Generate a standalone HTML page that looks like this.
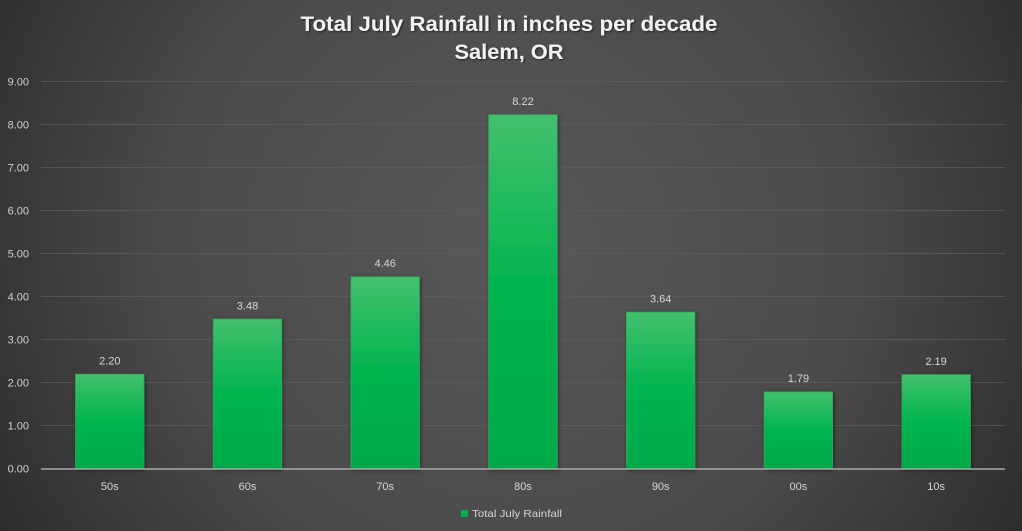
<!DOCTYPE html>
<html>
<head>
<meta charset="utf-8">
<style>
html,body{margin:0;padding:0;background:#333;}
svg{display:block;}
text{font-family:"Liberation Sans",sans-serif;}
</style>
</head>
<body>
<svg width="1022" height="531" viewBox="0 0 1022 531" xmlns="http://www.w3.org/2000/svg">
<defs>
<radialGradient id="bg" cx="0.5" cy="0.45" r="0.62" gradientUnits="objectBoundingBox" gradientTransform="translate(0.5 0.45) scale(1 1.9) translate(-0.5 -0.45)">
<stop offset="0" stop-color="#585858"/>
<stop offset="0.55" stop-color="#4a4a4a"/>
<stop offset="1" stop-color="#282828"/>
</radialGradient>
<linearGradient id="bar" x1="0" y1="0" x2="0" y2="1">
<stop offset="0" stop-color="#44c06d"/>
<stop offset="0.5" stop-color="#00b44f"/>
<stop offset="1" stop-color="#00aa4a"/>
</linearGradient>
<filter id="sh" x="-20%" y="-10%" width="140%" height="120%">
<feGaussianBlur in="SourceAlpha" stdDeviation="2"/>
<feOffset dx="1" dy="1"/>
<feComponentTransfer><feFuncA type="linear" slope="0.45"/></feComponentTransfer>
<feMerge><feMergeNode/><feMergeNode in="SourceGraphic"/></feMerge>
</filter>
<filter id="tsh" x="-5%" y="-20%" width="110%" height="150%">
<feGaussianBlur in="SourceAlpha" stdDeviation="1"/>
<feOffset dx="1" dy="1"/>
<feComponentTransfer><feFuncA type="linear" slope="0.6"/></feComponentTransfer>
<feMerge><feMergeNode/><feMergeNode in="SourceGraphic"/></feMerge>
</filter>
</defs>
<rect x="0" y="0" width="1022" height="531" fill="url(#bg)"/>

<!-- title -->
<g filter="url(#tsh)" fill="#f2f2f2" font-weight="bold" font-size="21" text-anchor="middle">
<text x="509" y="31" textLength="417" lengthAdjust="spacingAndGlyphs">Total July Rainfall in inches per decade</text>
<text x="509" y="59" textLength="109" lengthAdjust="spacingAndGlyphs">Salem, OR</text>
</g>

<!-- gridlines -->
<g stroke="#5e5e5e" stroke-opacity="0.75" stroke-width="1">
<line x1="41" x2="1005" y1="81.5" y2="81.5"/>
<line x1="41" x2="1005" y1="124.5" y2="124.5"/>
<line x1="41" x2="1005" y1="167.5" y2="167.5"/>
<line x1="41" x2="1005" y1="210.5" y2="210.5"/>
<line x1="41" x2="1005" y1="253.5" y2="253.5"/>
<line x1="41" x2="1005" y1="296.5" y2="296.5"/>
<line x1="41" x2="1005" y1="339.5" y2="339.5"/>
<line x1="41" x2="1005" y1="382.5" y2="382.5"/>
<line x1="41" x2="1005" y1="425.5" y2="425.5"/>
</g>

<!-- y labels -->
<g fill="#d0d0d0" font-size="11" text-anchor="end">
<text x="29" y="85.5">9.00</text>
<text x="29" y="128.5">8.00</text>
<text x="29" y="171.5">7.00</text>
<text x="29" y="214.5">6.00</text>
<text x="29" y="257.5">5.00</text>
<text x="29" y="300.5">4.00</text>
<text x="29" y="343.5">3.00</text>
<text x="29" y="386.5">2.00</text>
<text x="29" y="429.5">1.00</text>
<text x="29" y="472.5">0.00</text>
</g>

<!-- bars -->
<g fill="url(#bar)" stroke="#2ea85a" stroke-width="0.8" filter="url(#sh)">
<rect x="75.5" y="374.2" width="68.5" height="94.8"/>
<rect x="213.2" y="319" width="68.5" height="150"/>
<rect x="350.9" y="276.8" width="68.5" height="192.2"/>
<rect x="488.7" y="114.7" width="68.5" height="354.3"/>
<rect x="626.4" y="312.1" width="68.5" height="156.9"/>
<rect x="764.1" y="391.9" width="68.5" height="77.1"/>
<rect x="901.9" y="374.6" width="68.5" height="94.4"/>
</g>

<!-- axis -->
<line x1="41" x2="1005" y1="469" y2="469" stroke="#a9a9a9" stroke-width="1.5"/>

<!-- data labels -->
<g fill="#d6d6d6" font-size="11" text-anchor="middle">
<text x="109.8" y="364.5">2.20</text>
<text x="247.5" y="309.3">3.48</text>
<text x="385.2" y="267">4.46</text>
<text x="523" y="105">8.22</text>
<text x="660.7" y="302.4">3.64</text>
<text x="798.4" y="382.2">1.79</text>
<text x="936.1" y="364.9">2.19</text>
</g>

<!-- category labels -->
<g fill="#d6d6d6" font-size="11" text-anchor="middle">
<text x="109.8" y="490">50s</text>
<text x="247.5" y="490">60s</text>
<text x="385.2" y="490">70s</text>
<text x="523" y="490">80s</text>
<text x="660.7" y="490">90s</text>
<text x="798.4" y="490">00s</text>
<text x="936.1" y="490">10s</text>
</g>

<!-- legend -->
<rect x="461" y="510" width="7" height="7" fill="#00b050"/>
<text x="472" y="517" fill="#d6d6d6" font-size="10.5" textLength="90" lengthAdjust="spacingAndGlyphs">Total July Rainfall</text>
</svg>
</body>
</html>
